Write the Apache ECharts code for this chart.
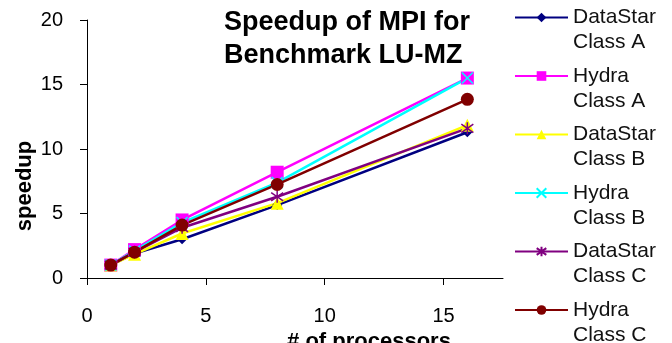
<!DOCTYPE html>
<html>
<head>
<meta charset="utf-8">
<script src="https://cdn.jsdelivr.net/npm/echarts@6/dist/echarts.min.js"></script>
<style>
    html, body { margin: 0; padding: 0; background: #fff; }
    #chart { width: 672px; height: 343px; }
</style>
</head>
<body>
<div id="chart"></div>
<script>
// processors on the x axis
const processors = [1, 2, 4, 8, 16];

const seriesNames = [
    "DataStar Class A", "Hydra Class A", "DataStar Class B",
    "Hydra Class B", "DataStar Class C", "Hydra Class C"
];
const dataStarA = [1, 1.9, 3.0, 5.65, 11.3];
const hydraA = [1, 2.2, 4.5, 8.2, 15.5];
const dataStarB = [1, 1.85, 3.45, 5.8, 11.85];
const hydraB = [1, 2.1, 4.3, 7.4, 15.5];
const dataStarC = [1, 2.0, 3.9, 6.3, 11.6];
const hydraC = [1, 2.0, 4.1, 7.25, 13.85];

const xTicks = [0, 5, 10, 15];

const FONT = "'Liberation Sans', Arial, sans-serif";
const crossPath = "path://M0,0L10,10M10,0L0,10";
const starPath = "path://M5,0L5,10M0,1.5L10,8.5M10,1.5L0,8.5";

function makeSeries(name, values, color, symbol, size, stroked) {
    return {
        name: name,
        type: "line",
        data: processors.map((p, i) => [p, values[i]]),
        symbol: symbol,
        symbolSize: size,
        lineStyle: { color: color, width: 2.5 },
        itemStyle: stroked
            ? { color: color, borderColor: color, borderWidth: 1.5 }
            : { color: color, borderWidth: 0 }
    };
}

const chart = echarts.init(document.getElementById("chart"));
chart.setOption({
    animation: false,
    title: {
        text: "Speedup of MPI for\nBenchmark LU-MZ",
        left: 224,
        top: 6,
        padding: 0,
        textStyle: {
            fontFamily: FONT,
            fontSize: 27,
            fontWeight: "bold",
            lineHeight: 33,
            color: "#000"
        }
    },
    legend: {
        orient: "vertical",
        left: 514,
        top: -20,
        height: 500,
        padding: 0,
        itemWidth: 53,
        itemHeight: 12,
        itemGap: -16.5,
        // empty first line so the icon sits level with the first text line
        formatter: name => "\n" + name.replace(" Class", "\nClass"),
        textStyle: {
            fontFamily: FONT,
            fontSize: 21,
            lineHeight: 25,
            color: "#111"
        }
    },
    grid: {
        left: 87,
        right: 169,
        top: 20,
        bottom: 65,
        outerBoundsMode: "none"
    },
    xAxis: {
        type: "value",
        min: 0,
        max: 17.5,
        interval: 5,
        name: "# of processors",
        nameLocation: "middle",
        nameGap: 44,
        nameTextStyle: {
            fontFamily: FONT, fontSize: 22, fontWeight: "bold", color: "#000",
            padding: [0, 0, 0, 148]
        },
        axisLine: { lineStyle: { color: "#000", width: 1 } },
        axisTick: { length: 7, customValues: xTicks, lineStyle: { color: "#000" } },
        axisLabel: {
            customValues: xTicks,
            margin: 28,
            fontFamily: FONT, fontSize: 20, color: "#000"
        },
        splitLine: { show: false }
    },
    yAxis: {
        type: "value",
        min: 0,
        max: 20,
        interval: 5,
        name: "speedup",
        nameLocation: "middle",
        nameGap: 51,
        nameMoveOverlap: false,
        nameTextStyle: {
            fontFamily: FONT, fontSize: 22, fontWeight: "bold", color: "#000",
            padding: [0, 74, 0, 0]
        },
        axisLine: { show: true, lineStyle: { color: "#000", width: 1 } },
        axisTick: { show: true, length: 7, lineStyle: { color: "#000" } },
        axisLabel: { margin: 24, fontFamily: FONT, fontSize: 20, color: "#000" },
        splitLine: { show: false }
    },
    series: [
        makeSeries(seriesNames[0], dataStarA, "#000080", "diamond", 10, false),
        makeSeries(seriesNames[1], hydraA, "#ff00ff", "rect", 13, false),
        makeSeries(seriesNames[2], dataStarB, "#ffff00", "triangle", 13, false),
        makeSeries(seriesNames[3], hydraB, "#00ffff", crossPath, 11, true),
        makeSeries(seriesNames[4], dataStarC, "#800080", starPath, 12, true),
        makeSeries(seriesNames[5], hydraC, "#800000", "circle", 13, false)
    ]
});
</script>
</body>
</html>
